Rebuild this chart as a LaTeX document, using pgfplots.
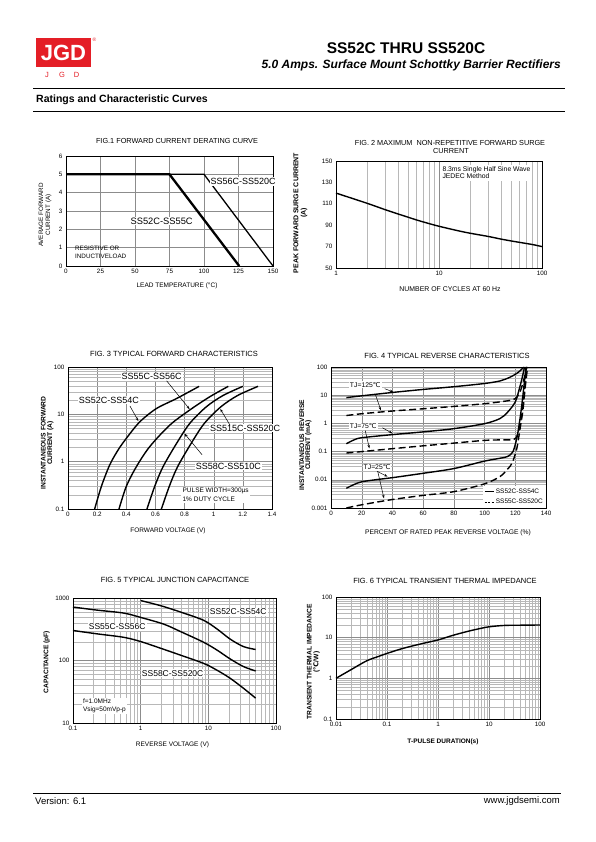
\documentclass[border=0pt]{standalone}
\usepackage{fontspec}
\setmainfont{Liberation Sans}
\newfontfamily\dejavu{DejaVu Sans}
\usepackage{pgfplots}
\pgfplotsset{compat=1.18}
\usetikzlibrary{arrows.meta}
\definecolor{jgdred}{RGB}{228,30,38}
\newcommand\fs[1]{\fontsize{#1}{#1}\selectfont}
\newcommand\degc{{\dejavu ℃}}
\pgfplotsset{
  ds/.style={scale only axis, anchor=south west, clip=false,
    axis line style={black, line width=0.7pt},
    major tick length=0pt, minor tick length=0pt,
    tick label style={font=\fs{6.3}, black},
    /pgf/number format/assume math mode=true,
    grid style={black!45, line width=0.35pt},
    minor grid style={black!28, line width=0.3pt},
  },
  cv/.style={black, line width=1.4pt, smooth},
  dcv/.style={black, line width=1.4pt, smooth, dash pattern=on 7pt off 3.5pt},
}
\tikzset{
  lbl/.style={fill=white, inner sep=1pt},
  arr/.style={-{Stealth[length=3.5pt,width=2.5pt]}, line width=0.5pt},
}
\begin{document}
\begin{tikzpicture}
\path[use as bounding box] (0,0) rectangle (595pt,842pt);

% ---------------- FIG 1 ----------------
\begin{axis}[ds, at={(66pt,576pt)}, width=207pt, height=110pt,
  xmin=0, xmax=150, ymin=0, ymax=6,
  xtick={0,25,50,75,100,125,150}, ytick={0,1,2,3,4,5,6}, grid=major]
\addplot[black, line width=1.3pt] coordinates {(0,5) (100,5) (150,0)};
\addplot[black, line width=2.3pt] coordinates {(0,5) (75,5) (125.5,0)};
\node[lbl, font=\fs{9}] at (axis cs:128.3,4.6) {SS56C-SS520C};
\node[lbl, font=\fs{9.3}] at (axis cs:69.3,2.45) {SS52C-SS55C};
\node[anchor=west, inner sep=0, align=left, font={\fontsize{6.3}{8.4}\selectfont}] at (axis cs:6.5,0.74) {RESISTIVE OR\\INDUCTIVELOAD};
\end{axis}

% ---------------- FIG 2 ----------------
\begin{axis}[ds, at={(336pt,574pt)}, width=206pt, height=107pt,
  xmode=log, xmin=1, xmax=100, ymin=50, ymax=150,
  xtick={1,10,100}, xticklabels={1,10,100},
  minor xtick={2,3,4,5,6,7,8,9,20,30,40,50,60,70,80,90},
  ytick={50,70,90,110,130,150}, xmajorgrids, xminorgrids]
\addplot[cv] coordinates {(1,120) (2,110.5) (3,104.5) (4,100.5) (5,97.5) (6,95) (8,91.5) (10,89) (15,85) (20,82.5) (30,79.5) (40,77) (50,75.3) (60,74) (80,72) (100,70)};
\node[fill=white, anchor=north west, inner sep=2pt, align=left, font={\fontsize{6.8}{7}\selectfont}] at (axis cs:10.3,146.5) {8.3ms Single Half Sine Wave\\JEDEC Method};
\end{axis}

% ---------------- FIG 3 ----------------
\begin{axis}[ds, at={(68pt,333pt)}, width=204pt, height=142pt,
  ymode=log, xmin=0, xmax=1.4, ymin=0.1, ymax=100,
  xtick={0,0.2,0.4,0.6,0.8,1,1.2,1.4}, xticklabels={0,0.2,0.4,0.6,0.8,1,1.2,1.4},
  ytick={0.1,1,10,100}, yticklabels={0.1,1,10,100},
  minor ytick={0.2,0.3,0.4,0.5,0.6,0.7,0.8,0.9,2,3,4,5,6,7,8,9,20,30,40,50,60,70,80,90},
  xmajorgrids, ymajorgrids, yminorgrids]
\addplot[cv] coordinates {(0.183,0.1) (0.229,0.3) (0.286,0.85) (0.343,1.75) (0.40,3.1) (0.492,6.9) (0.606,13.2) (0.744,21.5) (0.9,39)};
\addplot[cv] coordinates {(0.35,0.1) (0.40,0.3) (0.469,0.78) (0.56,2.06) (0.698,5.9) (0.835,12.3) (0.972,23.4) (1.1,39)};
\addplot[cv] coordinates {(0.542,0.1) (0.595,0.3) (0.652,0.78) (0.744,2.4) (0.835,6.4) (0.949,14.4) (1.064,25) (1.2,39)};
\addplot[cv] coordinates {(0.641,0.1) (0.695,0.3) (0.752,0.78) (0.844,2.4) (0.935,6.4) (1.049,14.4) (1.164,25) (1.304,39)};
\node[lbl, font=\fs{9}] at (axis cs:0.574,62) {SS55C-SS56C};
\node[lbl, font=\fs{9}] at (axis cs:0.281,20) {SS52C-SS54C};
\node[lbl, font=\fs{9}] at (axis cs:1.215,5.07) {SS515C-SS520C};
\node[lbl, font=\fs{9}] at (axis cs:1.10,0.81) {SS58C-SS510C};
\draw[arr] (axis cs:0.677,51) -- (axis cs:0.835,12.8);
\draw[arr] (axis cs:0.425,15) -- (axis cs:0.483,7.2);
\draw[arr] (axis cs:1.112,5.9) -- (axis cs:1.045,13);
\draw[arr] (axis cs:0.92,1.4) -- (axis cs:0.80,3.9);
\node[fill=white, anchor=west, inner sep=1.5pt, align=left, font={\fontsize{6.5}{8.5}\selectfont}] at (axis cs:0.775,0.2) {PULSE WIDTH=300µs\\1\% DUTY CYCLE};
\end{axis}

% ---------------- FIG 4 ----------------
\begin{axis}[ds, at={(331pt,334pt)}, width=215pt, height=141pt,
  ymode=log, xmin=0, xmax=140, ymin=0.001, ymax=100,
  xtick={0,20,40,60,80,100,120,140},
  ytick={0.001,0.01,0.1,1,10,100}, yticklabels={0.001,0.01,0.1,1,10,100},
  minor ytick={0.002,0.003,0.004,0.005,0.006,0.007,0.008,0.009,0.02,0.03,0.04,0.05,0.06,0.07,0.08,0.09,0.2,0.3,0.4,0.5,0.6,0.7,0.8,0.9,2,3,4,5,6,7,8,9,20,30,40,50,60,70,80,90},
  xmajorgrids, ymajorgrids, yminorgrids,
  legend style={at={(1,0)}, anchor=south east, draw=none, fill=white, font=\fs{6.5}, inner sep=1pt, row sep=0pt, legend cell align=left},
  legend image code/.code={\draw[#1] (0pt,0pt) -- (9pt,0pt);}]
\addplot[cv, forget plot] coordinates {(10,8.2) (20,9.5) (40,12.5) (60,16) (80,20) (100,26) (110,32) (116,42) (120,55) (123,72) (125.5,100)};
\addplot[dcv, forget plot] coordinates {(10,1.9) (20,2.2) (40,2.75) (60,3.3) (80,4.0) (100,5.0) (110,5.8) (118,6.8) (121,8.5) (123.5,15) (125.8,40) (127.5,100)};
\addplot[cv, forget plot] coordinates {(10,0.19) (15,0.26) (20,0.31) (40,0.4) (60,0.5) (80,0.65) (100,0.98) (110,1.48) (115,2.5) (120,5.8) (123,20) (125,55) (126,100)};
\addplot[dcv, forget plot] coordinates {(10,0.089) (20,0.1) (40,0.127) (60,0.16) (80,0.2) (100,0.25) (110,0.26) (119,0.27) (121.5,0.4) (123.5,1.2) (125.5,8) (127.5,100)};
\addplot[cv, forget plot] coordinates {(10,0.005) (15,0.0068) (20,0.0085) (30,0.0102) (40,0.0119) (60,0.017) (80,0.025) (100,0.046) (110,0.058) (115,0.067) (118.5,0.1) (121,0.3) (122.5,0.9) (124,3.5) (125.5,18) (127,100)};
\addplot[dcv, forget plot] coordinates {(10,0.001) (20,0.0013) (40,0.002) (60,0.0028) (80,0.0038) (100,0.0072) (110,0.013) (115,0.024) (118,0.04) (121,0.13) (123,0.6) (125,3) (126.5,20) (128,100)};
\addlegendimage{black, line width=0.5pt}
\addlegendentry{SS52C-SS54C}
\addlegendimage{black, line width=0.5pt, dash pattern=on 2pt off 1.5pt}
\addlegendentry{SS55C-SS520C}
\node[lbl, font=\fs{6.8}] at (axis cs:22.3,23.6) {TJ=125\degc};
\node[lbl, font=\fs{6.8}] at (axis cs:21,0.8) {TJ=75\degc};
\node[lbl, font=\fs{6.8}] at (axis cs:30,0.028) {TJ=25\degc};
\draw[arr] (axis cs:35,17) -- (axis cs:40.5,13);
\draw[arr] (axis cs:28.8,11) -- (axis cs:32.5,2.9);
\draw[arr] (axis cs:33.5,0.7) -- (axis cs:40,0.44);
\draw[arr] (axis cs:22.3,0.55) -- (axis cs:25,0.13);
\draw[arr] (axis cs:30,0.02) -- (axis cs:36.8,0.013);
\draw[arr] (axis cs:30.5,0.019) -- (axis cs:34.5,0.0022);
\end{axis}

% ---------------- FIG 5 ----------------
\begin{axis}[ds, at={(73pt,119pt)}, width=203pt, height=125pt,
  xmode=log, ymode=log, xmin=0.1, xmax=100, ymin=10, ymax=1000,
  xtick={0.1,1,10,100}, xticklabels={0.1,1,10,100},
  ytick={10,100,1000}, yticklabels={10,100,1000},
  minor xtick={0.2,0.3,0.4,0.5,0.6,0.7,0.8,0.9,2,3,4,5,6,7,8,9,20,30,40,50,60,70,80,90},
  minor ytick={20,30,40,50,60,70,80,90,200,300,400,500,600,700,800,900},
  grid=both]
\addplot[cv] coordinates {(1,910) (2,750) (4,590) (8.5,440) (13.4,320) (21,220) (33,167) (50,150)};
\addplot[cv] coordinates {(0.1,716) (0.226,640) (0.56,574) (1,489) (2.19,382) (3.86,291) (8.5,196) (13.4,147) (21,106) (33,80) (50,68)};
\addplot[cv] coordinates {(0.1,302) (0.226,267) (0.56,235) (1,201) (2.19,151) (3.86,122) (8.5,90) (13.4,70) (21,52) (33,36) (50,25)};
\node[lbl, font=\fs{8.5}] at (axis cs:27.7,600) {SS52C-SS54C};
\node[lbl, font=\fs{8.5}] at (axis cs:0.45,345) {SS55C-SS56C};
\node[lbl, font=\fs{8.5}] at (axis cs:2.97,62) {SS58C-SS520C};
\node[fill=white, anchor=west, inner sep=1pt, align=left, font={\fontsize{6.5}{7.8}\selectfont}] at (axis cs:0.135,19) {f=1.0MHz\\Vsig=50mVp-p};
\end{axis}

% ---------------- FIG 6 ----------------
\begin{axis}[ds, at={(336pt,123pt)}, width=204pt, height=122pt,
  xmode=log, ymode=log, xmin=0.01, xmax=100, ymin=0.1, ymax=100,
  xtick={0.01,0.1,1,10,100}, xticklabels={0.01,0.1,1,10,100},
  ytick={0.1,1,10,100}, yticklabels={0.1,1,10,100},
  minor xtick={0.02,0.03,0.04,0.05,0.06,0.07,0.08,0.09,0.2,0.3,0.4,0.5,0.6,0.7,0.8,0.9,2,3,4,5,6,7,8,9,20,30,40,50,60,70,80,90},
  minor ytick={0.2,0.3,0.4,0.5,0.6,0.7,0.8,0.9,2,3,4,5,6,7,8,9,20,30,40,50,60,70,80,90},
  grid=both]
\addplot[cv] coordinates {(0.01,1.0) (0.02,1.65) (0.04,2.7) (0.07,3.5) (0.1,4.1) (0.2,5.4) (0.5,7.2) (1,8.8) (2,11.5) (4,14.5) (7,17) (10,18.5) (20,20) (50,20.3) (100,20.5)};
\end{axis}

% ---------------- page text ----------------
\begin{scope}[x=1pt, y=-1pt, shift={(0pt,842pt)}]
\fill[jgdred] (36,38.3) rectangle (91,66.7);
\node[text=white, font=\bfseries\fs{22}, inner sep=0] at (63.5,52.5) {JGD};
\node[text=jgdred, font=\fs{7.5}] at (47,75) {J};
\node[text=jgdred, font=\fs{7.5}] at (62,75) {G};
\node[text=jgdred, font=\fs{7.5}] at (76.5,75) {D};
\node[text=jgdred, font=\fs{5}] at (94.5,40) {®};
\node[font=\bfseries\fs{15.5}, inner sep=0] at (406,48) {SS52C THRU SS520C};
\node[font=\bfseries\itshape\fs{12}, anchor=east, inner sep=0] at (561,65) {5.0 Amps. Surface Mount Schottky Barrier Rectifiers};
\draw[line width=1.2pt] (33,88.3) -- (565,88.3);
\node[font=\bfseries\fs{10.5}, anchor=west, inner sep=0] at (36,100) {Ratings and Characteristic Curves};
\draw[line width=0.9pt] (33,111.7) -- (565,111.7);
\draw[line width=1.5pt] (33,793.5) -- (561,793.5);
\node[font=\fs{9.5}, anchor=west, inner sep=0] at (35,801) {Version: 6.1};
\node[font=\fs{9.5}, anchor=east, inner sep=0] at (560,801) {www.jgdsemi.com};
% fig1
\node[font=\fs{7.3}] at (177,140.7) {FIG.1 FORWARD CURRENT DERATING CURVE};
\node[font=\fs{6.5}] at (177,285.7) {LEAD TEMPERATURE (°C)};
\node[rotate=90, font=\fs{6.3}] at (41,215) {AVERAGE FORWARD};
\node[rotate=90, font=\fs{6.3}] at (48.5,215) {CURRENT (A)};
% fig2
\node[font=\fs{7.3}] at (450,142.7) {FIG. 2 MAXIMUM\ \ NON-REPETITIVE FORWARD SURGE};
\node[font=\fs{7.3}] at (451,151) {CURRENT};
\node[rotate=90, font=\bfseries\fs{7}] at (296,213) {PEAK FORWARD SURGE CURRENT};
\node[rotate=90, font=\bfseries\fs{7}] at (304,213) {(A)};
\node[font=\fs{6.9}] at (450,289) {NUMBER OF CYCLES AT 60 Hz};
% fig3
\node[font=\fs{7.5}] at (174,354.3) {FIG. 3 TYPICAL FORWARD CHARACTERISTICS};
\node[font=\fs{6.5}] at (168,531.3) {FORWARD VOLTAGE (V)};
\node[rotate=90, font=\bfseries\fs{6.7}] at (43.3,443) {INSTANTANEOUS FORWARD};
\node[rotate=90, font=\bfseries\fs{6.7}] at (50.5,443) {CURRENT (A)};
% fig4
\node[font=\fs{7.5}] at (447,355.7) {FIG. 4 TYPICAL REVERSE CHARACTERISTICS};
\node[font=\fs{6.7}] at (448,532.7) {PERCENT OF RATED PEAK REVERSE VOLTAGE (\%)};
\node[rotate=90, font=\bfseries\fs{6.7}] at (301.7,445) {INSTANTANEOUS REVERSE};
\node[rotate=90, font=\bfseries\fs{6.7}] at (308.5,445) {CURRENT (mA)};
% fig5
\node[font=\fs{7.5}] at (175,580) {FIG. 5 TYPICAL JUNCTION CAPACITANCE};
\node[font=\fs{6.5}] at (172.5,744.7) {REVERSE VOLTAGE (V)};
\node[rotate=90, font=\bfseries\fs{6.7}] at (46.7,662) {CAPACITANCE (pF)};
% fig6
\node[font=\fs{7.5}] at (445,581) {FIG. 6 TYPICAL TRANSIENT THERMAL IMPEDANCE};
\node[font=\bfseries\fs{6.5}] at (443,741.7) {T-PULSE DURATION(s)};
\node[rotate=90, font=\bfseries\fs{6.7}] at (309.3,662) {TRANSIENT THERMAL IMPEDANCE};
\node[rotate=90, font=\bfseries\fs{6.7}] at (316.5,662) {(\degc/W)};
\end{scope}
\end{tikzpicture}
\end{document}
